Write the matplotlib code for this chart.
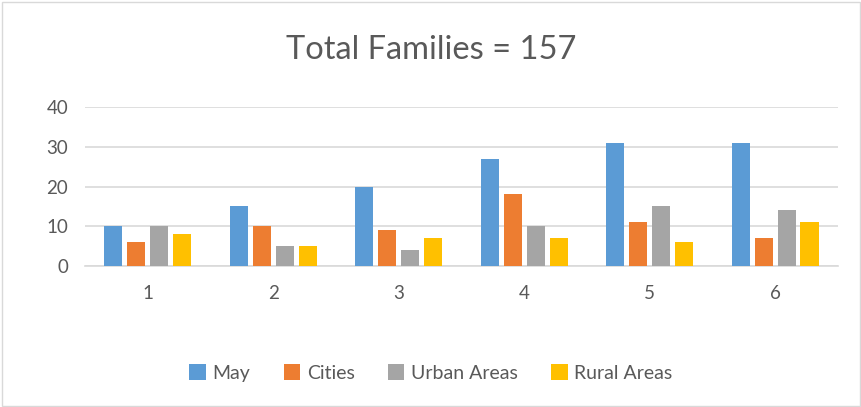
import numpy as np
import matplotlib.pyplot as plt
from matplotlib.patches import Rectangle

# Données
groupes = ["1", "2", "3", "4", "5", "6"]
may = [10, 15, 20, 27, 31, 31]
cities = [6, 10, 9, 18, 11, 7]
urban = [10, 5, 4, 10, 15, 14]
rural = [8, 5, 7, 7, 6, 11]

series = [("May", may, "#5b9bd5"),
          ("Cities", cities, "#ed7d31"),
          ("Urban Areas", urban, "#a5a5a5"),
          ("Rural Areas", rural, "#ffc000")]

plt.rcParams['font.family'] = ['Lato', 'DejaVu Sans']
texte = "#595959"

fig = plt.figure(figsize=(8.62, 4.07), dpi=100)
ax = fig.add_axes([0.0986, 0.3464, 0.8734, 0.3907])

x = np.arange(len(groupes))
largeur = 0.145
pas = 0.183
for i, (nom, valeurs, couleur) in enumerate(series):
    ax.bar(x + (i - 1.5) * pas, valeurs, largeur, color=couleur, label=nom,
           zorder=3)

ax.set_xlim(-0.5, len(groupes) - 0.5)
ax.set_ylim(0, 40)
ax.set_yticks([0, 10, 20, 30, 40])
ax.set_xticks(x)
ax.set_xticklabels(groupes)
ax.grid(axis='y', color="#d9d9d9", linewidth=1.2, zorder=0)
for s in ['top', 'right', 'left']:
    ax.spines[s].set_visible(False)
ax.spines['bottom'].set_color("#d9d9d9")
ax.spines['bottom'].set_linewidth(1.2)
ax.tick_params(length=0, labelsize=13.5, colors=texte)
ax.tick_params(axis='x', pad=14)
ax.tick_params(axis='y', pad=12)

fig.suptitle("Total Families = 157", y=0.915, fontsize=23.5, color=texte)

ax.legend(loc='center', bbox_to_anchor=(0.5, 0.083), bbox_transform=fig.transFigure,
          ncol=4, frameon=False, fontsize=14, labelcolor=texte,
          handlelength=0.85, handleheight=0.85, handletextpad=0.35, columnspacing=1.7)

fig.patches.append(Rectangle((0.002, 0.002), 0.996, 0.994, transform=fig.transFigure,
                             fill=False, edgecolor="#d9d9d9", linewidth=1))

fig.savefig("out.png", dpi=100)
